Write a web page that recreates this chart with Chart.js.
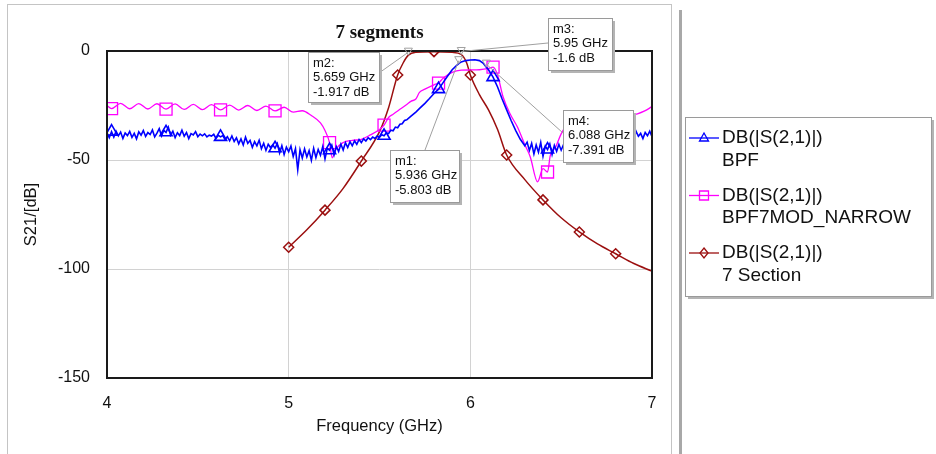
<!DOCTYPE html>
<html>
<head>
<meta charset="utf-8">
<script src="https://cdn.jsdelivr.net/npm/chart.js@4.4.1/dist/chart.umd.min.js"></script>
<style>
  html, body { margin: 0; padding: 0; background: #fff; }
  #wrap { width: 936px; height: 454px; }
</style>
</head>
<body>
<div id="wrap"><canvas id="s21Chart" width="936" height="454"></canvas></div>
<script>
// x ticks / y ticks
const freqTicks = [4, 5, 6, 7];
const dbTicks = [-150, -100, -50, 0];

// DB(|S(2,1)|) BPF  (measured, noisy)
const bpfFreq = [
  4.0, 4.0125, 4.025, 4.0375, 4.05, 4.0625, 4.075, 4.0875, 4.1, 4.1125, 4.125, 4.1375, 4.15, 4.1625, 4.175, 4.1875,
  4.2, 4.2125, 4.225, 4.2375, 4.25, 4.2625, 4.275, 4.2875, 4.3, 4.3125, 4.325, 4.3375, 4.35, 4.3625, 4.375, 4.3875,
  4.4, 4.4125, 4.425, 4.4375, 4.45, 4.4625, 4.475, 4.4875, 4.5, 4.5125, 4.525, 4.5375, 4.55, 4.5625, 4.575, 4.5875,
  4.6, 4.6125, 4.625, 4.6375, 4.65, 4.6625, 4.675, 4.6875, 4.7, 4.7125, 4.725, 4.7375, 4.75, 4.7625, 4.775, 4.7875,
  4.8, 4.8125, 4.825, 4.8375, 4.85, 4.8625, 4.875, 4.8875, 4.9, 4.9125, 4.925, 4.9375, 4.95, 4.9625, 4.975, 4.9875,
  5.0, 5.0125, 5.025, 5.0375, 5.05, 5.0625, 5.075, 5.0875, 5.1, 5.1125, 5.125, 5.1375, 5.15, 5.1625, 5.175, 5.1875,
  5.2, 5.2125, 5.225, 5.2375, 5.25, 5.2625, 5.275, 5.2875, 5.3, 5.3125, 5.325, 5.3375, 5.35, 5.3625, 5.375, 5.3875,
  5.4, 5.4125, 5.425, 5.4375, 5.45, 5.4625, 5.475, 5.4875, 5.5, 5.5125, 5.525, 5.5375,
  5.55, 5.5625, 5.575, 5.5875, 5.6, 5.6125, 5.625, 5.6375, 5.65, 5.675, 5.7, 5.725, 5.75, 5.775, 5.8, 5.825, 5.85,
  5.875, 5.9, 5.925, 5.936, 5.95,
  5.975, 6.0, 6.025, 6.05, 6.07, 6.088, 6.1, 6.125, 6.15, 6.175, 6.2, 6.225, 6.25, 6.275, 6.3,
  6.3125, 6.325, 6.3375, 6.35, 6.3625, 6.375, 6.3875, 6.4, 6.4125, 6.425, 6.4375, 6.45, 6.4625, 6.475, 6.4875, 6.5,
  6.5125, 6.525, 6.55, 6.6, 6.65, 6.7, 6.725, 6.75, 6.8, 6.85,
  6.8625, 6.875, 6.8875, 6.9, 6.9125, 6.925, 6.9375, 6.95, 6.9625, 6.975, 6.9875, 7.0
];
const bpfDb = [
  -37.5, -39.8, -37.0, -39.5, -36.8, -38.9, -37.2, -40.1, -37.6, -38.8, -36.9, -39.6, -37.8, -40.3, -37.1, -38.6,
  -36.5, -39.2, -37.4, -38.3, -36.2, -39.4, -37.7, -35.6, -38.9, -36.4, -37.3, -34.9, -38.6, -36.8, -39.7, -37.5,
  -38.8, -36.3, -39.1, -37.4, -40.2, -37.9, -38.5, -37.0, -39.3, -38.1, -38.9, -38.0, -39.4, -38.6, -39.0, -38.2,
  -40.1, -38.7, -39.4, -38.8, -40.6, -39.3, -41.2, -39.0, -41.5, -39.8, -42.6, -40.3, -43.1, -39.5, -42.4, -41.0,
  -44.2, -41.6, -43.5, -40.9, -44.8, -42.3, -45.6, -42.8, -44.3, -43.0, -44.6, -42.5, -46.8, -43.4, -47.5, -44.1,
  -46.2, -43.6, -48.4, -44.8, -54.5, -45.3, -49.1, -44.9, -48.6, -45.7, -50.2, -44.6, -48.9, -45.2, -47.8, -43.9,
  -49.5, -44.7, -45.5, -43.2, -47.6, -43.8, -46.1, -42.7, -45.4, -42.1, -44.3, -41.6, -43.5, -41.2, -42.8, -40.6,
  -42.0, -40.3, -41.3, -39.8, -40.7, -39.5, -40.1, -39.0, -39.6, -38.4, -38.9, -37.6,
  -37.9, -36.3, -36.6, -34.9, -35.2, -33.6, -33.4, -31.9, -31.6, -29.8, -28.0, -26.0, -24.0, -21.8, -19.5, -17.5, -14.5,
  -11.5, -8.6, -6.6, -5.8, -5.0,
  -4.4, -4.1, -4.0, -4.4, -5.5, -7.4, -8.6, -12.0, -16.5, -22.0, -27.0, -32.0, -36.5, -40.5, -43.5,
  -41.8, -45.6, -42.4, -47.2, -43.1, -46.4, -41.9, -48.3, -43.7, -45.2, -42.6, -47.5, -43.3, -46.0, -42.8, -45.5,
  -43.0, -44.9, -43.5, -42.0, -41.0, -40.0, -40.0, -39.5, -39.2, -38.8,
  -37.2, -39.6, -37.5, -39.8, -36.9, -39.1, -37.8, -40.2, -37.4, -38.9, -36.8, -39.3
];
const bpfMarks = [4.025, 4.325, 4.625, 4.925, 5.225, 5.525, 5.825, 6.125, 6.425, 6.725];

// DB(|S(2,1)|) BPF7MOD_NARROW
const narrowFreq = [
  4.0, 4.025, 4.075, 4.125, 4.175, 4.225, 4.275, 4.325, 4.375, 4.425, 4.475, 4.525, 4.575, 4.625, 4.675, 4.725,
  4.775, 4.825, 4.875, 4.925, 4.975, 5.025, 5.075, 5.125, 5.175, 5.2, 5.225, 5.24, 5.26, 5.3, 5.35, 5.4, 5.45, 5.5,
  5.525, 5.55, 5.575, 5.6, 5.625, 5.65, 5.675, 5.7, 5.72, 5.75, 5.8, 5.825, 5.85, 5.9, 5.95, 6.0, 6.05, 6.1, 6.125,
  6.15, 6.18, 6.22, 6.26, 6.3, 6.33, 6.37, 6.4, 6.425, 6.44, 6.47, 6.5, 6.55, 6.6, 6.725, 6.8, 6.87, 6.92, 6.96, 7.0
];
const narrowDb = [
  -25.0, -26.4, -24.0, -26.5, -24.1, -26.6, -24.2, -26.7, -24.3, -26.8, -24.5, -26.9, -24.6, -27.0, -24.8, -27.1,
  -25.0, -27.3, -25.3, -27.5, -25.8, -28.0, -27.4, -29.6, -33.0, -36.5, -42.0, -49.0, -45.0, -42.0, -41.0, -40.5, -38.5, -36.0,
  -34.0, -30.5, -29.0, -27.5, -26.0, -24.5, -23.0, -22.0, -19.0, -17.5, -15.5, -14.7, -12.5, -9.8, -8.8, -8.7, -8.6, -8.0, -7.4,
  -11.0, -21.0, -29.0, -35.0, -43.0, -48.6, -60.0, -54.0, -55.5, -48.0, -44.0, -38.0, -32.0, -30.5, -30.5, -30.0, -29.5, -28.8, -27.5, -25.5
];
const narrowMarks = [4.025, 4.325, 4.625, 4.925, 5.225, 5.525, 5.825, 6.125, 6.425, 6.725];

// DB(|S(2,1)|) 7 Section
const sectionFreq = [5.0, 5.1, 5.2, 5.3, 5.4, 5.5, 5.55, 5.6, 5.63, 5.659, 5.7, 5.8, 5.9, 5.95, 5.98, 6.0, 6.05, 6.1,
  6.15, 6.2, 6.3, 6.4, 6.5, 6.6, 6.7, 6.8, 6.9, 7.0];
const sectionDb = [-90, -82, -73, -63, -50.5, -37, -26, -11, -5.5, -1.9, -0.6, -0.3, -0.6, -1.6, -5.5, -11, -20, -27,
  -36, -47.7, -59, -68.3, -76.5, -83, -88.5, -93, -97.5, -101];
const sectionMarks = [5.0, 5.2, 5.4, 5.6, 5.8, 6.0, 6.2, 6.4, 6.6, 6.8];

// markers m1..m4
const markerNames = ['m1', 'm2', 'm3', 'm4'];
const markerFreq = [5.936, 5.659, 5.95, 6.088];
const markerDb = [-5.803, -1.917, -1.6, -7.391];

const legendTitles = ['DB(|S(2,1)|)', 'DB(|S(2,1)|)', 'DB(|S(2,1)|)'];
const legendNames = ['BPF', 'BPF7MOD_NARROW', '7 Section'];

const SANS = "'Liberation Sans', Arial, sans-serif";

function toPoints(xs, ys) {
  return xs.map((x, i) => ({ x: x, y: ys[i] }));
}

function markerRadius(marks, r) {
  return (ctx) => (ctx.raw && marks.includes(ctx.raw.x)) ? r : 0;
}

// box positions for the marker read-outs
const markerBoxes = [
  { x: 390, y: 150, w: 69, h: 52, lx: 425, ly: 150 },
  { x: 308, y: 52, w: 71, h: 50, lx: 379, ly: 73 },
  { x: 548, y: 18, w: 64, h: 52, lx: 548, ly: 43 },
  { x: 563, y: 110, w: 70, h: 52, lx: 563, ly: 133 }
];

function drawBox(ctx, x, y, w, h) {
  ctx.fillStyle = '#b4b4b4';
  ctx.fillRect(x + 3, y + 3, w, h);
  ctx.fillStyle = '#fff';
  ctx.fillRect(x, y, w, h);
  ctx.strokeStyle = '#9a9a9a';
  ctx.lineWidth = 1;
  ctx.strokeRect(x + 0.5, y + 0.5, w, h);
}

function drawSymbol(ctx, style, x, y, color) {
  ctx.strokeStyle = color;
  ctx.lineWidth = 1.3;
  ctx.beginPath();
  if (style === 'triangle') {
    ctx.moveTo(x, y - 5); ctx.lineTo(x + 4.5, y + 3); ctx.lineTo(x - 4.5, y + 3); ctx.closePath();
  } else if (style === 'rect') {
    ctx.rect(x - 4.5, y - 4.5, 9, 9);
  } else {
    ctx.moveTo(x, y - 5); ctx.lineTo(x + 4, y); ctx.lineTo(x, y + 5); ctx.lineTo(x - 4, y); ctx.closePath();
  }
  ctx.stroke();
}

const framePlugin = {
  id: 'frame',
  beforeDraw(chart) {
    const ctx = chart.ctx;
    ctx.save();
    ctx.fillStyle = '#fff';
    ctx.fillRect(0, 0, chart.width, chart.height);
    ctx.strokeStyle = '#c4c4c4';
    ctx.lineWidth = 1;
    ctx.strokeRect(7.5, 4.5, 664, 460);
    ctx.fillStyle = '#a8a8a8';
    ctx.fillRect(679, 10, 3, 450);
    ctx.restore();
  }
};

const overlayPlugin = {
  id: 'overlay',
  afterDatasetsDraw(chart) {
    const ctx = chart.ctx;
    const a = chart.chartArea;
    const xs = chart.scales.x, ys = chart.scales.y;
    ctx.save();
    // plot frame
    ctx.strokeStyle = '#1a1a1a';
    ctx.lineWidth = 2;
    ctx.strokeRect(a.left, a.top, a.right - a.left, a.bottom - a.top);

    // marker leader lines + triangles
    markerNames.forEach((name, i) => {
      const px = xs.getPixelForValue(markerFreq[i]);
      const py = ys.getPixelForValue(markerDb[i]);
      const b = markerBoxes[i];
      ctx.strokeStyle = '#a0a0a0';
      ctx.lineWidth = 1;
      ctx.beginPath();
      ctx.moveTo(b.lx, b.ly);
      ctx.lineTo(px, py - 3);
      ctx.stroke();
      ctx.beginPath();
      ctx.moveTo(px, py);
      ctx.lineTo(px - 4, py - 7);
      ctx.lineTo(px + 4, py - 7);
      ctx.closePath();
      ctx.stroke();
    });

    // marker read-out boxes
    ctx.font = '13px ' + SANS;
    ctx.textBaseline = 'middle';
    ctx.textAlign = 'left';
    markerNames.forEach((name, i) => {
      const b = markerBoxes[i];
      drawBox(ctx, b.x, b.y, b.w, b.h);
      ctx.fillStyle = '#111';
      ctx.fillText(name + ':', b.x + 5, b.y + 11);
      ctx.fillText(markerFreq[i] + ' GHz', b.x + 5, b.y + 25.5);
      ctx.fillText(markerDb[i] + ' dB', b.x + 5, b.y + 40);
    });
    ctx.restore();
  },
  afterDraw(chart) {
    const ctx = chart.ctx;
    ctx.save();
    drawBox(ctx, 685, 117, 246, 179);
    const ds = chart.data.datasets;
    const styles = ['triangle', 'rect', 'rectRot'];
    ctx.font = '19px ' + SANS;
    ctx.textBaseline = 'middle';
    ctx.textAlign = 'left';
    legendNames.forEach((name, i) => {
      const y = 138 + i * 57.5;
      const color = ds[i].borderColor;
      ctx.strokeStyle = color;
      ctx.lineWidth = 1.3;
      ctx.beginPath();
      ctx.moveTo(689, y);
      ctx.lineTo(719, y);
      ctx.stroke();
      drawSymbol(ctx, styles[i], 704, y, color);
      ctx.fillStyle = '#111';
      ctx.fillText(legendTitles[i], 722, y);
      ctx.fillText(name, 722, y + 22.5);
    });
    ctx.restore();
  }
};

new Chart(document.getElementById('s21Chart'), {
  type: 'line',
  data: {
    datasets: [
      {
        label: 'DB(|S(2,1)|) BPF',
        data: toPoints(bpfFreq, bpfDb),
        borderColor: '#0000ff',
        borderWidth: 1.6,
        tension: 0,
        pointStyle: 'triangle',
        pointRadius: markerRadius(bpfMarks, 7),
        pointBorderWidth: 1.6,
        pointBorderColor: '#0000ff',
        pointBackgroundColor: 'rgba(0,0,0,0)'
      },
      {
        label: 'DB(|S(2,1)|) BPF7MOD_NARROW',
        data: toPoints(narrowFreq, narrowDb),
        borderColor: '#ff00ff',
        borderWidth: 1.3,
        cubicInterpolationMode: 'monotone',
        pointStyle: 'rect',
        pointRadius: markerRadius(narrowMarks, 8.5),
        pointBorderWidth: 1.3,
        pointBorderColor: '#ff00ff',
        pointBackgroundColor: 'rgba(0,0,0,0)'
      },
      {
        label: 'DB(|S(2,1)|) 7 Section',
        data: toPoints(sectionFreq, sectionDb),
        borderColor: '#9b0f0f',
        borderWidth: 1.5,
        cubicInterpolationMode: 'monotone',
        pointStyle: 'rectRot',
        pointRadius: markerRadius(sectionMarks, 5),
        pointBorderWidth: 1.5,
        pointBorderColor: '#9b0f0f',
        pointBackgroundColor: 'rgba(0,0,0,0)'
      }
    ]
  },
  options: {
    responsive: false,
    animation: false,
    events: [],
    layout: { padding: { left: 8, right: 284, top: 0, bottom: 0 } },
    scales: {
      x: {
        type: 'linear',
        min: freqTicks[0],
        max: freqTicks[freqTicks.length - 1],
        afterBuildTicks(scale) { scale.ticks = freqTicks.map(v => ({ value: v })); },
        afterFit(scale) { scale.height = 76; },
        grid: { color: '#d2d2d2', lineWidth: 1, drawTicks: false },
        border: { display: false },
        ticks: { color: '#111', padding: 16, font: { family: SANS, size: 16 } },
        title: {
          display: true, text: 'Frequency (GHz)', color: '#111',
          font: { family: SANS, size: 16.5 }, padding: { top: 0, bottom: 18 }
        }
      },
      y: {
        min: dbTicks[0],
        max: dbTicks[dbTicks.length - 1],
        afterBuildTicks(scale) { scale.ticks = dbTicks.map(v => ({ value: v })); },
        afterFit(scale) { scale.width = 99; },
        grid: { color: '#d2d2d2', lineWidth: 1, drawTicks: false },
        border: { display: false },
        ticks: { color: '#111', padding: 17, font: { family: SANS, size: 16 } },
        title: {
          display: true, text: 'S21/[dB]', color: '#111',
          font: { family: SANS, size: 16.5 }, padding: { top: 14, bottom: 0 }
        }
      }
    },
    plugins: {
      legend: { display: false },
      tooltip: { enabled: false },
      title: {
        display: true,
        fullSize: false,
        text: '7 segments',
        color: '#111',
        font: { family: "'Liberation Serif', 'Times New Roman', serif", size: 19, weight: 'bold' },
        padding: { top: 21.6, bottom: 6.6 }
      }
    }
  },
  plugins: [framePlugin, overlayPlugin]
});
</script>
</body>
</html>
